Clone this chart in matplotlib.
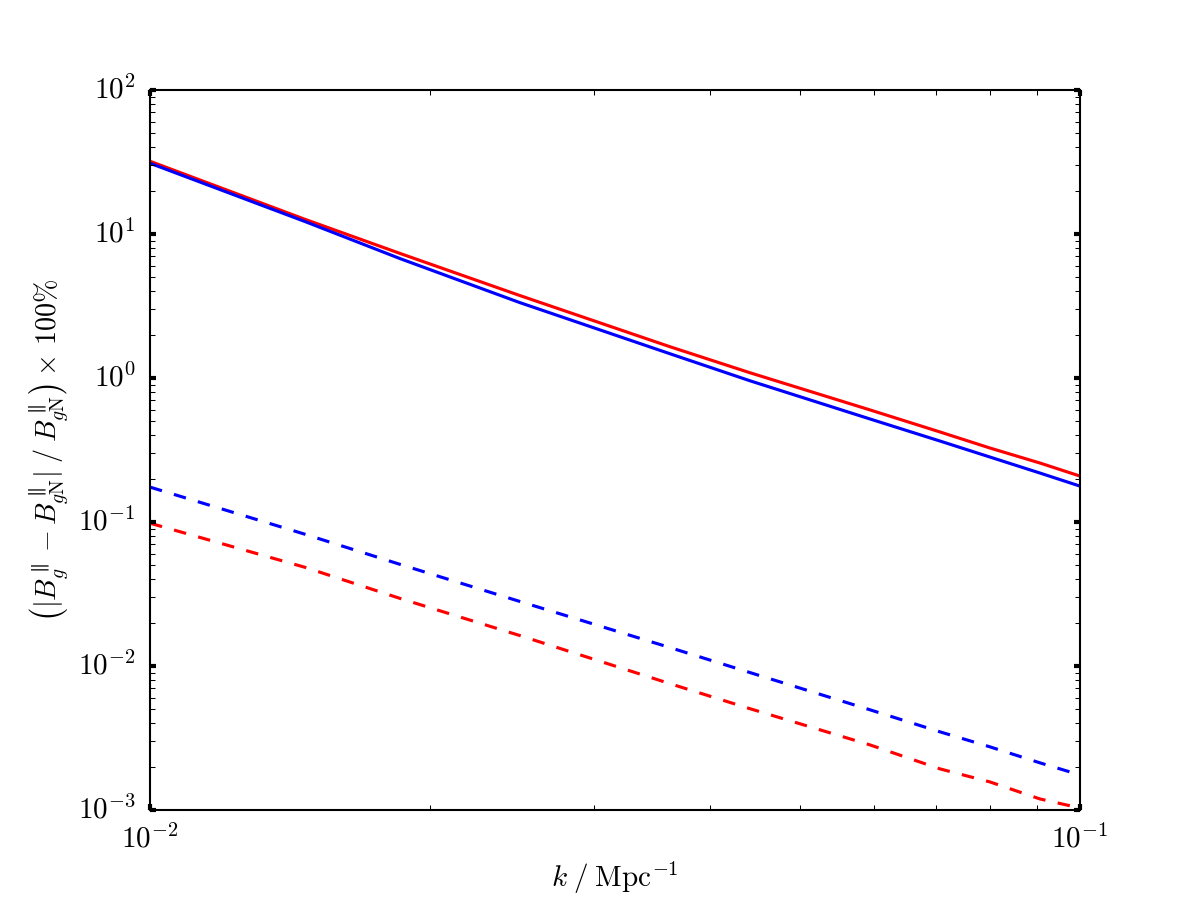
#!/usr/bin/env python3
"""
Relative difference of B_g^parallel vs the Newtonian value, log-log.
"""
import math

import matplotlib
matplotlib.use("Agg")
import matplotlib.pyplot as plt
from matplotlib.ticker import FuncFormatter

# wavenumbers (Mpc^-1) where the curves were read
k = [0.01, 0.01468, 0.01857, 0.02498, 0.03623, 0.04418, 0.05942,
     0.0707, 0.0800, 0.09057, 0.1]

# solid curves
red_solid = [32.0, 12.64, 7.33, 3.74, 1.649, 1.087, 0.601,
             0.422, 0.3265, 0.2567, 0.2084]
blue_solid = [31.0, 12.2, 6.75, 3.34, 1.474, 0.956, 0.520,
              0.365, 0.2827, 0.2187, 0.1775]

# dashed curves
blue_dashed = [0.1747, 0.0822, 0.0508, 0.02808, 0.01343, 0.00900, 0.00497,
               0.00349, 0.002746, 0.002125, 0.001752]
red_dashed = [0.0981, 0.04844, 0.02947, 0.01628, 0.00754, 0.00505, 0.002835,
              0.00193, 0.001567, 0.001193, 0.001032]


def pow10(val, pos):
    # plain mathtext so the cm fontset draws the digits
    return r"$10^{%d}$" % round(math.log10(val))


def main():
    plt.style.use("classic")
    plt.rcParams["mathtext.fontset"] = "cm"
    plt.rcParams["font.family"] = ["DejaVu Serif"]

    fig = plt.figure(figsize=(8, 6), dpi=150, facecolor="white")
    ax = fig.add_subplot(111)

    ax.plot(k, red_solid, color="red", lw=1.5)
    ax.plot(k, blue_solid, color="blue", lw=1.5)
    ax.plot(k, blue_dashed, color="blue", lw=1.5, ls="--")
    ax.plot(k, red_dashed, color="red", lw=1.5, ls="--")

    ax.set_xscale("log")
    ax.set_yscale("log")
    ax.set_xlim(1e-2, 1e-1)
    ax.set_ylim(1e-3, 1e2)
    ax.xaxis.set_major_formatter(FuncFormatter(pow10))
    ax.yaxis.set_major_formatter(FuncFormatter(pow10))

    ax.tick_params(which="major", length=3, width=2, labelsize=14, pad=7)
    ax.tick_params(which="minor", length=2.5, width=0.5)

    ax.set_xlabel(r"$k\;/\;\mathrm{Mpc}^{-1}$", fontsize=14, labelpad=3)
    ax.set_ylabel(r"$\left(|B_g^{\parallel}-B_{g\mathrm{N}}^{\parallel}|\;/\;"
                  r"B_{g\mathrm{N}}^{\parallel}\right)\times\,100\%$",
                  fontsize=13.5, labelpad=3)

    fig.savefig("out.png", dpi=150, facecolor="white")


if __name__ == "__main__":
    main()
